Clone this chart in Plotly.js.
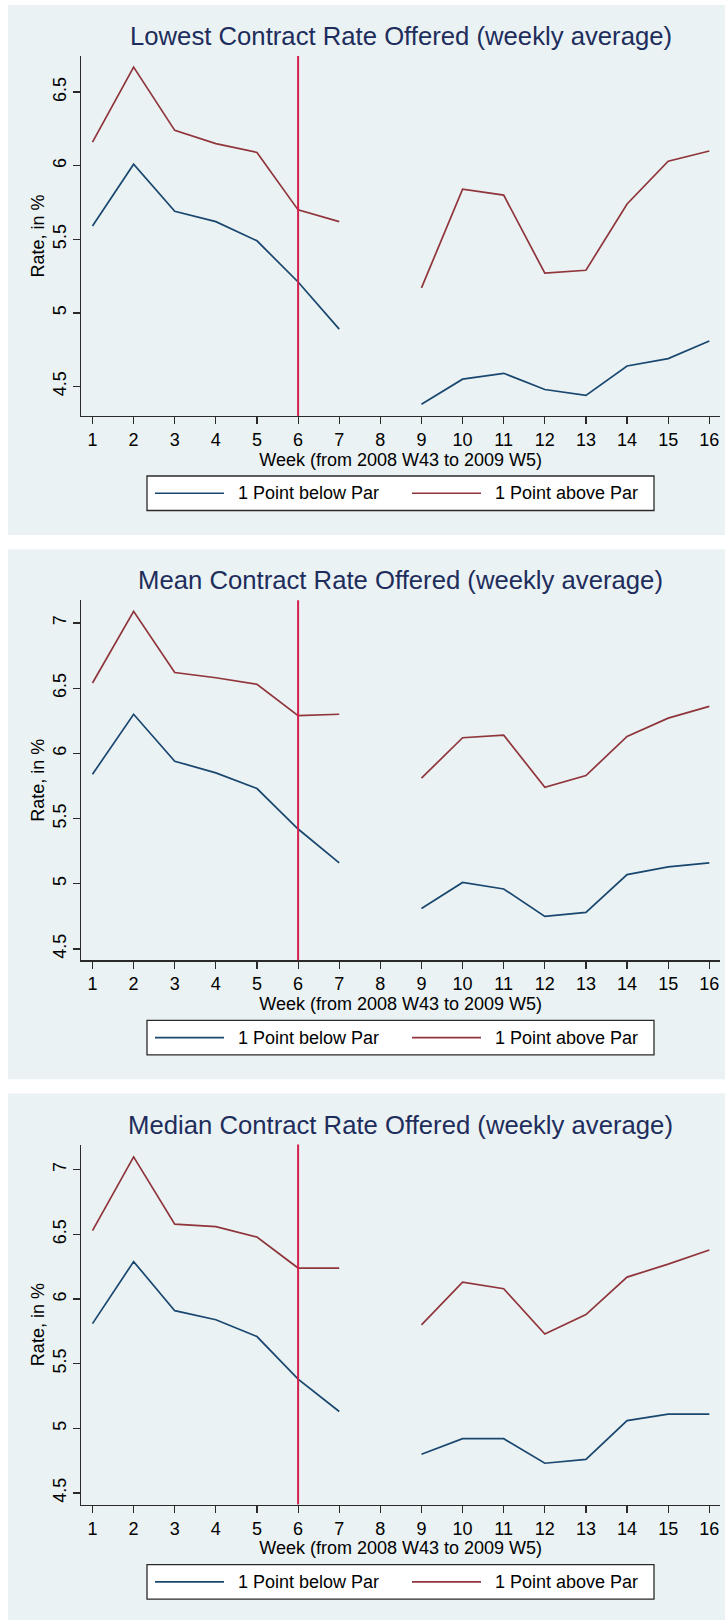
<!DOCTYPE html>
<html>
<head>
<meta charset="utf-8">
<script src="https://cdn.plot.ly/plotly-3.0.1.min.js"></script>
<style>html,body{margin:0;padding:0;background:#fff;}#chart{width:725px;height:1620px;}</style>
</head>
<body>
<div id="chart"></div>
<script>
// ---- data ----
const weeks = [1,2,3,4,5,6,7,8,9,10,11,12,13,14,15,16];
const weekTicks = [1,2,3,4,5,6,7,8,9,10,11,12,13,14,15,16];
const eventWeek = 6;

const panelTitles = [
  "Lowest Contract Rate Offered (weekly average)",
  "Mean Contract Rate Offered (weekly average)",
  "Median Contract Rate Offered (weekly average)"
];
const seriesNames = ["1 Point below Par", "1 Point above Par"];
const xTitle = "Week (from 2008 W43 to 2009 W5)";
const yTitle = "Rate, in %";

const lowestBelow = [5.59, 6.01, 5.69, 5.62, 5.49, 5.21, 4.89, null, 4.38, 4.55, 4.59, 4.48, 4.44, 4.64, 4.69, 4.81];
const lowestAbove = [6.16, 6.67, 6.24, 6.15, 6.09, 5.70, 5.62, null, 5.17, 5.84, 5.80, 5.27, 5.29, 5.74, 6.03, 6.10];
const meanBelow   = [5.84, 6.30, 5.94, 5.85, 5.73, 5.42, 5.16, null, 4.81, 5.01, 4.96, 4.75, 4.78, 5.07, 5.13, 5.16];
const meanAbove   = [6.54, 7.09, 6.62, 6.58, 6.53, 6.29, 6.30, null, 5.81, 6.12, 6.14, 5.74, 5.83, 6.13, 6.27, 6.36];
const medianBelow = [5.81, 6.29, 5.91, 5.84, 5.71, 5.38, 5.13, null, 4.80, 4.92, 4.92, 4.73, 4.76, 5.06, 5.11, 5.11];
const medianAbove = [6.53, 7.10, 6.58, 6.56, 6.48, 6.24, 6.24, null, 5.80, 6.13, 6.08, 5.73, 5.88, 6.17, 6.27, 6.38];

const yRanges = [[4.30, 6.745], [4.413, 7.174], [4.41, 7.195]];
const yTickVals = [[4.5,5,5.5,6,6.5], [4.5,5,5.5,6,6.5,7], [4.5,5,5.5,6,6.5,7]];

// ---- style ----
const W = 725, H = 1620;
const FONT = "Liberation Sans, Arial, Helvetica, sans-serif";
const BLUE = "#1a476f", RED = "#90353b", VLINE = "#d4204c";
const BG = "#eaf2f3", TITLE_C = "#1e2d5c", AXIS_C = "#2a2a2a";
const panelTop = [5, 549.3, 1093.6];

const px = x => x / W;
const py = y => 1 - y / H;

const seriesData = [[lowestBelow, lowestAbove], [meanBelow, meanAbove], [medianBelow, medianAbove]];

const traces = [];
const shapes = [];
const annotations = [];
const layout = {
  width: W, height: H,
  margin: {l: 0, r: 0, t: 0, b: 0},
  paper_bgcolor: "#ffffff",
  plot_bgcolor: "#ffffff",
  showlegend: false,
  font: {family: FONT, color: "#000"},
  shapes: shapes,
  annotations: annotations
};

for (let p = 0; p < 3; p++) {
  const o = panelTop[p];
  const sfx = p === 0 ? "" : String(p + 1);
  const xa = "x" + sfx, ya = "y" + sfx;

  // panel background
  shapes.push({type: "rect", xref: "paper", yref: "paper", layer: "below",
    x0: px(8), x1: px(725), y0: py(o), y1: py(Math.min(o + 530, H)),
    fillcolor: BG, line: {width: 0}});

  layout["xaxis" + sfx] = {
    domain: [px(81.4), px(720)],
    anchor: ya,
    range: [0.73, 16.26],
    tickmode: "array", tickvals: weekTicks, ticktext: weekTicks.map(String),
    showgrid: false, zeroline: false,
    showline: true, linecolor: AXIS_C, linewidth: 1.3,
    ticks: "outside", ticklen: 7, tickwidth: 1.2, tickcolor: AXIS_C,
    tickfont: {family: FONT, size: 18, color: "#000"},
    title: {text: xTitle, font: {family: FONT, size: 18, color: "#000"}, standoff: 3},
    automargin: false, fixedrange: true
  };
  layout["yaxis" + sfx] = {
    domain: [py(o + 411), py(o + 51)],
    anchor: xa,
    range: yRanges[p],
    tickmode: "array", tickvals: yTickVals[p], ticktext: yTickVals[p].map(String),
    tickangle: -90,
    showgrid: true, gridcolor: BG, gridwidth: 1.8,
    zeroline: false,
    showline: true, linecolor: AXIS_C, linewidth: 1.3,
    ticks: "outside", ticklen: 7, tickwidth: 1.2, tickcolor: AXIS_C,
    tickfont: {family: FONT, size: 18, color: "#000"},
    title: {text: yTitle, font: {family: FONT, size: 18, color: "#000"}, standoff: 0},
    automargin: false, fixedrange: true
  };

  // data series
  const colors = [BLUE, RED];
  for (let s = 0; s < 2; s++) {
    traces.push({
      type: "scatter", mode: "lines",
      x: weeks, y: seriesData[p][s],
      xaxis: xa, yaxis: ya,
      name: seriesNames[s],
      connectgaps: false,
      line: {color: colors[s], width: 1.7},
      hoverinfo: "x+y+name"
    });
  }

  // vertical reference line at the event week
  shapes.push({type: "line", xref: xa, yref: ya + " domain", layer: "above",
    x0: eventWeek, x1: eventWeek, y0: 0, y1: 1,
    line: {color: VLINE, width: 2}});

  // panel title
  annotations.push({xref: "paper", yref: "paper", x: px(400.7), y: py(o + 31),
    xanchor: "center", yanchor: "middle", showarrow: false,
    text: panelTitles[p], font: {family: FONT, size: 25.7, color: TITLE_C}});

  // legend box
  const ly0 = o + 471, ly1 = o + 505.5, lyc = (ly0 + ly1) / 2;
  shapes.push({type: "rect", xref: "paper", yref: "paper", layer: "above",
    x0: px(147), x1: px(654), y0: py(ly0), y1: py(ly1),
    fillcolor: "#ffffff", line: {color: AXIS_C, width: 1.3}});
  const sx = [[155, 224, 236], [412, 481, 493]];
  for (let s = 0; s < 2; s++) {
    shapes.push({type: "line", xref: "paper", yref: "paper", layer: "above",
      x0: px(sx[s][0]), x1: px(sx[s][1]), y0: py(lyc), y1: py(lyc),
      line: {color: colors[s], width: 1.7}});
    annotations.push({xref: "paper", yref: "paper", x: px(sx[s][2]), y: py(lyc),
      xanchor: "left", yanchor: "middle", showarrow: false,
      text: seriesNames[s], font: {family: FONT, size: 18, color: "#000"}});
  }
}

Plotly.newPlot("chart", traces, layout, {displayModeBar: false, staticPlot: true});
</script>
</body>
</html>
